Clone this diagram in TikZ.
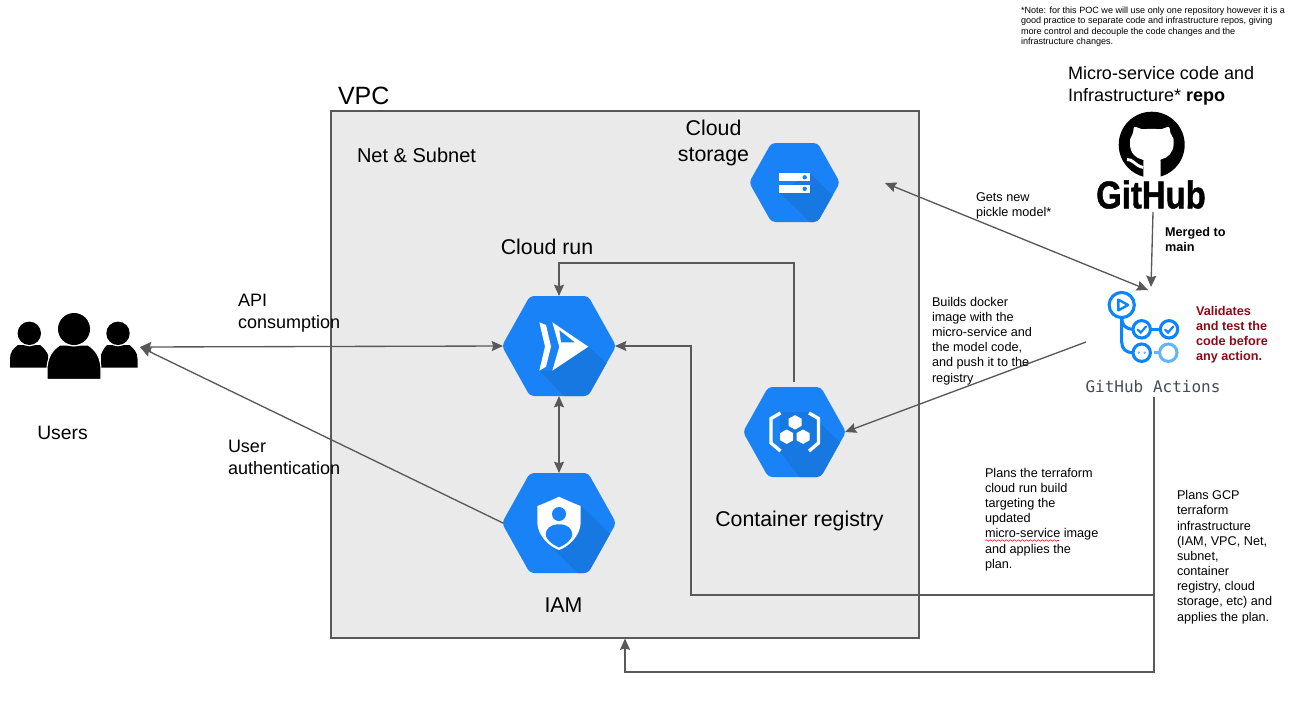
\documentclass[tikz,border=0pt]{standalone}
\usepackage{fontspec}
\setmainfont{Liberation Sans}
\newfontfamily\ghmono{DejaVu Sans Mono}
\newfontfamily\ghfont{Liberation Sans}[BoldFeatures={FakeBold=1.2}]
\usetikzlibrary{arrows.meta,decorations.pathmorphing}
\definecolor{hexblue}{HTML}{1A82F7}
\definecolor{hexshade}{HTML}{1878E2}
\definecolor{linegray}{HTML}{595959}
\definecolor{vpcfill}{HTML}{EAEAEA}
\definecolor{ghblue}{HTML}{0A84FF}
\definecolor{ghlight}{HTML}{62B6FF}
\definecolor{redtext}{HTML}{8F0A18}
\definecolor{monotext}{HTML}{444D56}
\tikzset{
  x=0.75pt,y=-0.75pt,
  conn/.style={draw=linegray,line width=1pt,-{Stealth[length=8.5pt,width=7.5pt,inset=1.2pt]}},
  connb/.style={draw=linegray,line width=1pt,{Stealth[length=8.5pt,width=7.5pt,inset=1.2pt]}-{Stealth[length=8.5pt,width=7.5pt,inset=1.2pt]}},
  anch/.style={inner sep=0pt,outer sep=0pt},
  lbl/.style={anch,anchor=north west,align=left},
  big/.style={font=\fontsize{15}{19.5}\selectfont},
  bigger/.style={font=\fontsize{16}{19.5}\selectfont},
  mid/.style={font=\fontsize{13.5}{16.5}\selectfont},
  small/.style={font=\fontsize{9.5}{11.38}\selectfont},
  smallb/.style={font=\fontsize{9.5}{11.38}\selectfont\bfseries},
  tiny/.style={font=\fontsize{6.8}{7.95}\selectfont},
  ghline/.style={draw=ghblue,line width=2.3pt},
  ghlite/.style={draw=ghlight,line width=2.3pt},
}
% name, cx, cy, half width, half height, shade polygon
\newcommand{\hexicon}[6]{%
  \node[anch,minimum width=#4*1.5pt,minimum height=#5*1.5pt] (#1) at (#2,#3) {};
  \begin{scope}
    \path[clip,rounded corners=3pt] (#2-#4*1.02,#3) -- (#2-#4*0.52,#3-#5) -- (#2+#4*0.52,#3-#5) -- (#2+#4*1.02,#3) -- (#2+#4*0.52,#3+#5) -- (#2-#4*0.52,#3+#5) -- cycle;
    \fill[hexblue] (#2-#4-5,#3-#5-5) rectangle (#2+#4+5,#3+#5+5);
    \fill[hexshade] #6;
  \end{scope}}
\begin{document}
\begin{tikzpicture}
\useasboundingbox (0,0) rectangle (1295,722);
\fill[white] (0,0) rectangle (1295,722);

% VPC
\node[anch,draw=linegray,line width=1pt,fill=vpcfill,minimum width=588*0.75pt,minimum height=527*0.75pt] (vpc) at (625,374.5) {};
\node[lbl,font=\fontsize{18.75}{22}\selectfont] (vpclabel) at (338,87) {VPC};
\node[lbl,big] (netlabel) at (357,148) {Net \& Subnet};
\node[anch,bigger,align=center,anchor=north] (storagelabel) at (713.5,120) {Cloud\\storage};
\node[anch,bigger] (runlabel) at (547,247) {Cloud run};
\node[anch,font=\fontsize{16}{19}\selectfont] (iamlabel) at (563.5,605.5) {IAM};
\node[anch,font=\fontsize{16}{19}\selectfont] (crlabel) at (799.5,521) {Container registry};

% Hex icons
\hexicon{run}{559}{346}{56}{50}{(539.3,370.7) -- (566,398) -- (620,398) -- (620,377) -- (606.7,363.3) -- (588.3,346.7) -- (552.3,370.7) -- cycle}
\fill[white] (539.3,322.3) -- (546,325) -- (551,346.5) -- (546,366.7) -- (539.3,370.7) -- (545,346.5) -- cycle;
\fill[white,even odd rule] (552.3,322.3) -- (588.3,346.7) -- (552.3,370.7) -- (559.3,346.7) -- cycle
  (559.3,330) -- (575,342.3) -- (561,342.3) -- cycle;

\hexicon{iam}{559}{523}{56}{50}{(580.7,505) -- (620,544) -- (620,578) -- (583,578) -- (553.3,548.3) -- cycle}
\fill[white] (559,496.7) .. controls (552,500) and (544,503.5) .. (537.3,506) -- (537.3,522) .. controls (537.3,536) and (550,547) .. (559,550) .. controls (568,547) and (580.7,536) .. (580.7,522) -- (580.7,506) .. controls (574,503.5) and (566,500) .. (559,496.7) -- cycle;
\fill[hexblue] (559,514) circle[radius=7];
\fill[hexblue] (559,524.3) .. controls (550,524.3) and (545.7,529) .. (545.7,534.5) .. controls (545.7,539) and (552,544.5) .. (559,547.5) .. controls (566,544.5) and (572.3,539) .. (572.3,534.5) .. controls (572.3,529) and (568,524.3) .. (559,524.3) -- cycle;

\hexicon{registry}{794.5}{432}{50.5}{45}{(780,412) -- (809,412) -- (850,452) -- (850,480) -- (802,480) -- (780,452) -- cycle}
\draw[white,line width=2.5pt] (780.5,413) -- (771,418.5) -- (771,443) -- (780.5,451);
\draw[white,line width=2.5pt] (809,413) -- (818.5,418.5) -- (818.5,443) -- (809,451);
\foreach \hx/\hy in {795/422.3,786.7/436.7,803/436.7}{
  \fill[white] (\hx,\hy-7.2) -- (\hx+6.5,\hy-3.6) -- (\hx+6.5,\hy+3.6) -- (\hx,\hy+7.2) -- (\hx-6.5,\hy+3.6) -- (\hx-6.5,\hy-3.6) -- cycle;
}

\hexicon{storage}{794.5}{182.5}{44.5}{39.5}{(810,173.3) -- (845,207) -- (845,226) -- (814,226) -- (779.3,192.7) -- cycle}
\fill[white] (779.3,173.3) rectangle (810,181.3);
\fill[white] (779.3,185) rectangle (810,192.7);
\fill[hexblue] (804.7,177.3) circle[radius=2.2];
\fill[hexblue] (804.7,188.8) circle[radius=2.2];

% Users
\node[anch,minimum width=132*0.75pt,minimum height=66*0.75pt] (users) at (74,347) {};
\fill[black] (10,367.7) -- (10,359) .. controls (10,352) and (13,349) .. (18,345) -- (40,345) .. controls (44,348) and (47,352) .. (48,355) -- (48,367.7) -- cycle;
\fill[black] (137.5,367.7) -- (137.5,359) .. controls (137.5,352) and (134,349) .. (129.5,345) -- (107,345) .. controls (104,348) and (102,352) .. (101,355) -- (101,367.7) -- cycle;
\fill[white] (29.3,333.3) circle[radius=13];
\fill[white] (118,333.3) circle[radius=13];
\fill[black] (29.3,333.3) circle[radius=11.7];
\fill[black] (118,333.3) circle[radius=11.7];
\fill[black,draw=white,line width=0.8pt] (47,379.5) -- (47,370) .. controls (47,358) and (52,350) .. (60,345) -- (88,345) .. controls (96,350) and (101,358) .. (101,370) -- (101,379.5) -- cycle;
\fill[white] (74,329) circle[radius=17.5];
\fill[black] (74,329) circle[radius=16];
\node[anch,font=\fontsize{14.5}{17}\selectfont] (userslabel) at (62.5,433) {Users};

% GitHub logo
\node[anch,minimum size=66*0.75pt] (ghcircle) at (1151.7,144.7) {};
\fill[black] (1151.7,144.7) circle[radius=33];
\fill[white,rounded corners=1.5pt] (1134,126.3) -- (1143.3,129.7) .. controls (1148,128.6) and (1155,128.6) .. (1160,129.7) -- (1169.3,126.3) -- (1170.7,134.7) .. controls (1173,137) and (1173.6,139) .. (1173.6,142) .. controls (1173.6,152) and (1168,158) .. (1159.3,159.7) .. controls (1160.5,161) and (1160.7,163) .. (1160.7,165) -- (1160.7,180) -- (1143.3,180) -- (1143.3,165) .. controls (1143.3,163) and (1143.5,161.5) .. (1144.5,160) .. controls (1136,158.5) and (1130,153) .. (1130,142) .. controls (1130,139) and (1131,137) .. (1132.7,134.7) -- cycle;
\draw[white,line width=2.2pt] (1127,159.5) .. controls (1133,159) and (1134,165) .. (1143,167.5);
\node[anch,font=\fontsize{29}{30}\ghfont\bfseries,xscale=0.85,transform shape] (ghtext) at (1151,194.5) {GitHub};

% GitHub Actions icon
\node[anch,minimum width=72*0.75pt,minimum height=66*0.75pt] (actionsicon) at (1138,329) {};
\draw[ghline] (1121.7,305) circle[radius=12.6];
\draw[ghline,line join=round,line width=1.8pt] (1118.3,299.6) -- (1128,305) -- (1118.3,310.4) -- cycle;
\draw[ghline] (1121.7,318) -- (1121.7,342) .. controls (1121.7,349) and (1126,352.7) .. (1133,352.7);
\draw[ghline] (1121.7,318) .. controls (1121.7,325) and (1126,329.3) .. (1133,329.3);
\draw[ghline] (1141.7,329.3) circle[radius=8.7];
\draw[ghline] (1169,329.3) circle[radius=8.7];
\draw[ghline] (1151,329.3) -- (1160,329.3);
\draw[ghline] (1141.7,352.7) circle[radius=8.7];
\draw[ghlite] (1168.3,352.7) circle[radius=8.7];
\draw[ghlite] (1154,352.7) -- (1159,352.7);
\draw[draw=ghblue,line width=1.6pt,line cap=round] (1137.7,329.5) -- (1140.7,332.5) -- (1146,326.5);
\draw[draw=ghblue,line width=1.6pt,line cap=round] (1165,329.5) -- (1168,332.5) -- (1173.3,326.5);
\fill[ghlight] (1138.7,352.7) circle[radius=1.3];
\fill[ghlight] (1144.7,352.7) circle[radius=1.3];
\node[anch,font=\fontsize{12}{14}\ghmono,text=monotext] (actionslabel) at (1153,387) {GitHub Actions};

% Free connector ends
\coordinate (ghout) at (1153,212);
\coordinate (actionsin) at (1151,287);
\coordinate (actionsnw) at (1148,290);
\coordinate (actionsw) at (1086,342);
\coordinate (actionss) at (1154,397);
\coordinate (tfa) at (1154,595);
\coordinate (tfb) at (691,595);
\coordinate (tfc) at (691,346);
\coordinate (infb) at (1154,672);
\coordinate (infc) at (625,672);
\coordinate (infd) at (625,638.5);
\coordinate (stor) at (885,183);
\coordinate (regtop) at (794,382);
\coordinate (rega) at (794,263);
\coordinate (regb) at (559,263);

% Connectors
\draw[connb] (users.east) -- (run.west);
\draw[conn] (iam.west) -- (users.east);
\draw[connb] (run.south) -- (iam.north);
\draw[conn] (regtop) -- (rega) -- (regb) -- (run.north);
\draw[conn] (actionsw) -- (registry.east);
\draw[connb] (stor) -- (actionsnw);
\draw[conn] (ghout) -- (actionsin);
\draw[conn] (tfa) -- (tfb) -- (tfc) -- (run.east);
\draw[conn] (actionss) -- (infb) -- (infc) -- (infd);

% Labels
\node[lbl,mid] (apilabel) at (238,294) {API\\consumption};
\node[lbl,mid] (authlabel) at (228,440) {User\\authentication};
\node[lbl,mid] (repolabel) at (1068,66) {Micro-service code and\\Infrastructure* \textbf{repo}};
\node[lbl,tiny] (note) at (1021,6.5) {*Note: for this POC we will use only one repository however it is a\\good practice to separate code and infrastructure repos, giving\\more control and decouple the code changes and the\\infrastructure changes.};
\node[lbl,small] (getslabel) at (976,192.5) {Gets new\\pickle model*};
\node[lbl,smallb] (mergedlabel) at (1165,227) {Merged to\\main};
\node[lbl,small] (buildslabel) at (932,297) {Builds docker\\image with the\\micro-service and\\the model code,\\and push it to the\\registry};
\node[lbl,small] (planslabel) at (985,468) {Plans the terraform\\cloud run build\\targeting the\\updated\\micro-service image\\and applies the\\plan.};
\node[lbl,small] (gcplabel) at (1177,490.5) {Plans GCP\\terraform\\infrastructure\\(IAM, VPC, Net,\\subnet,\\container\\registry, cloud\\storage, etc) and\\applies the plan.};
\node[lbl,smallb,text=redtext] (validlabel) at (1196,306) {Validates\\and test the\\code before\\any action.};
\coordinate (squigA) at (985,540.5);
\coordinate (squigB) at (1059,540.5);
\draw[red!85!black,line width=0.4pt,decorate,decoration={snake,amplitude=0.6pt,segment length=3pt}] (squigA) -- (squigB);
\end{tikzpicture}
\end{document}
